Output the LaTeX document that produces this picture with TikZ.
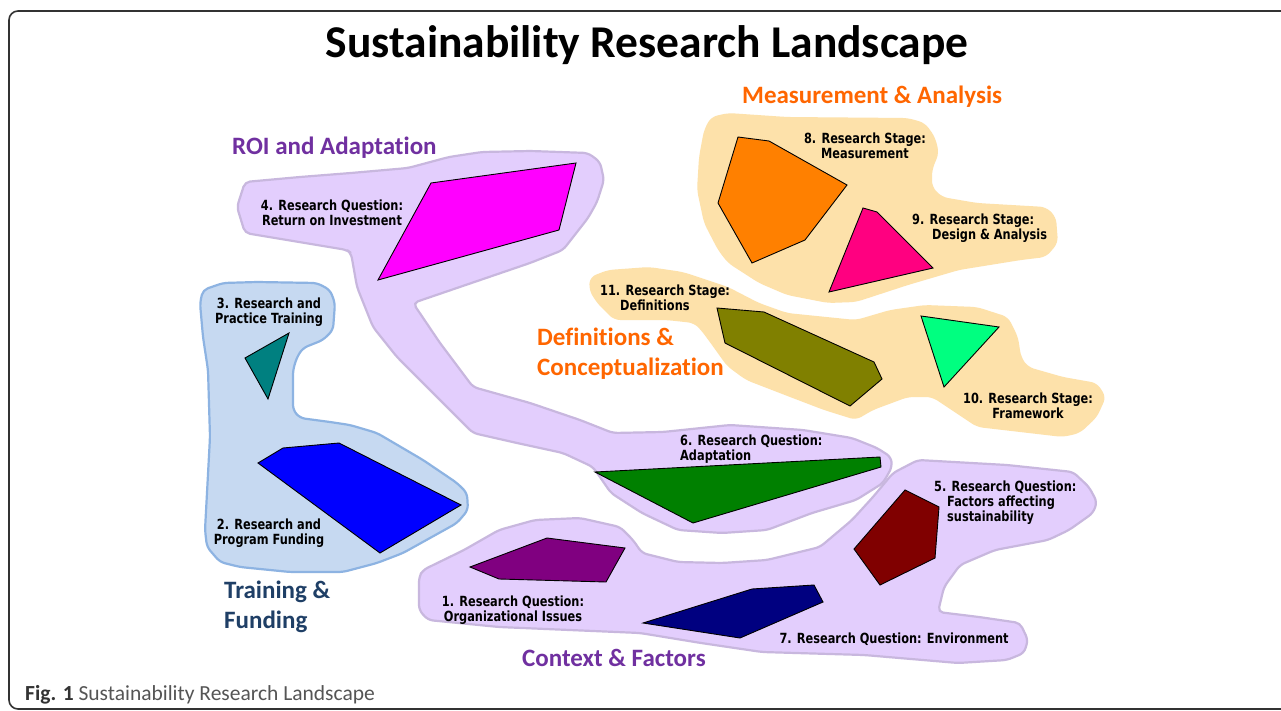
\documentclass[tikz,border=0pt]{standalone}
\usepackage{fontspec}
\setmainfont{Carlito}[Ligatures={NoCommon}]
\newfontfamily\labfont{DejaVu Sans}[FakeStretch=0.81]
\definecolor{lav}{HTML}{E3CEFD}
\definecolor{lavedge}{HTML}{C8B7DE}
\definecolor{peach}{HTML}{FDE1AA}
\definecolor{paleblue}{HTML}{C6D9F1}
\definecolor{blueedge}{HTML}{8DB3E2}
\definecolor{catpurple}{HTML}{7030A0}
\definecolor{catorange}{HTML}{FF6600}
\definecolor{catnavy}{HTML}{1F3F66}
\definecolor{framegray}{HTML}{333333}
\tikzset{
  lavblob/.style={fill=lav, draw=lavedge, line width=2.2pt, rounded corners=5pt},
  peachblob/.style={fill=peach, rounded corners=6pt},
  blueblob/.style={fill=paleblue, draw=blueedge, line width=2.2pt, rounded corners=5pt},
  poly/.style={draw=black, line width=0.9pt, line join=miter},
  smalllab/.style={inner sep=0pt, font=\labfont\bfseries\fontsize{14}{15}\selectfont},
  catlab/.style={inner sep=0pt, font=\bfseries\fontsize{25}{30}\selectfont, align=left}
}
\begin{document}
\begin{tikzpicture}[x=1pt,y=-1pt]
\useasboundingbox (0,0) rectangle (1281,711);
\fill[white] (0,0) rectangle (1281,711);
% frame
\draw[framegray, line width=1.6pt, rounded corners=9pt] (9,11) rectangle (1300,709);

% lavender blob: ROI and Adaptation
\draw[lavblob] (245,182) -- (300,177) -- (351,173) -- (408,168) -- (449,157) -- (482,152) -- (531,151) -- (588,153) -- (600,162) -- (604,180) -- (597,202) -- (588,218) -- (563,250) -- (530,263) -- (413,303) -- (440,343) -- (473,387) -- (530,403) -- (580,420) -- (613,433) -- (663,432) -- (730,425) -- (803,430) -- (852,438) -- (877,448) -- (891,457) -- (892,467) -- (883,483) -- (856,500) -- (812,513) -- (767,530) -- (722,533) -- (678,530) -- (642,513) -- (611,493) -- (593,467) -- (563,453) -- (517,443) -- (473,433) -- (430,390) -- (397,357) -- (373,327) -- (357,287) -- (351,253) -- (347,250) -- (245,233) -- (237,207) -- cycle;

% lavender blob: Context & Factors
\draw[lavblob] (419,577) -- (423,570) -- (464,550) -- (499,530) -- (535,520) -- (580,518) -- (620,527) -- (633,540) -- (642,553) -- (678,562) -- (722,563) -- (767,560) -- (820,547) -- (852,520) -- (873,497) -- (893,473) -- (918,460) -- (1007,465) -- (1073,472) -- (1089,487) -- (1097,502) -- (1093,513) -- (1069,530) -- (1048,540) -- (995,550) -- (960,565) -- (944,587) -- (938,612) -- (979,617) -- (1020,623) -- (1028,640) -- (1024,653) -- (1007,660) -- (958,663) -- (864,655) -- (762,652) -- (701,643) -- (640,633) -- (499,627) -- (428,620) -- (419,610) -- cycle;

% blue blob: Training & Funding
\draw[blueblob] (203,290) -- (223,283) -- (257,282) -- (317,283) -- (330,290) -- (335,303) -- (333,330) -- (323,340) -- (303,348) -- (297,357) -- (293,370) -- (293,410) -- (300,418) -- (330,422) -- (350,425) -- (377,433) -- (423,460) -- (457,483) -- (467,493) -- (468,510) -- (457,523) -- (403,553) -- (377,563) -- (343,572) -- (290,572) -- (240,567) -- (220,562) -- (207,547) -- (205,530) -- (210,437) -- (208,370) -- (203,337) -- (200,303) -- cycle;

% peach blob: Measurement & Analysis
\fill[peachblob] (711,117) -- (728,113) -- (787,117) -- (908,118) -- (925,123) -- (935,137) -- (939,153) -- (932,170) -- (932,187) -- (942,197) -- (977,203) -- (1046,207) -- (1056,217) -- (1058,243) -- (1046,257) -- (1021,260) -- (959,270) -- (908,285) -- (856,302) -- (828,303) -- (787,295) -- (759,283) -- (728,263) -- (718,250) -- (704,223) -- (697,190) -- (699,157) -- (704,130) -- cycle;

% peach blob: Definitions & Conceptualization
\fill[peachblob] (590,277) -- (608,270) -- (649,267) -- (683,272) -- (728,287) -- (759,303) -- (787,313) -- (856,320) -- (890,310) -- (925,305) -- (977,307) -- (1008,317) -- (1018,337) -- (1021,357) -- (1028,367) -- (1063,377) -- (1097,383) -- (1106,397) -- (1097,417) -- (1080,433) -- (1063,437) -- (977,427) -- (932,397) -- (908,397) -- (873,410) -- (856,420) -- (824,410) -- (790,397) -- (746,380) -- (727,366) -- (712,345) -- (701,330) -- (694,323) -- (666,320) -- (614,320) -- (597,303) -- (589,290) -- cycle;

% polygons
\draw[poly, fill={rgb,255:red,255;green,0;blue,255}] (431,183) -- (576,163) -- (559,230) -- (378,280) -- cycle;
\draw[poly, fill={rgb,255:red,0;green,128;blue,128}] (245,358) -- (289,333) -- (268,399) -- cycle;
\draw[poly, fill={rgb,255:red,0;green,0;blue,255}] (258,463) -- (283,448) -- (339,443) -- (461,505) -- (380,553) -- cycle;
\draw[poly, fill={rgb,255:red,128;green,0;blue,128}] (470,567) -- (547,538) -- (625,548) -- (606,582) -- (499,579) -- cycle;
\draw[poly, fill={rgb,255:red,0;green,128;blue,0}] (595,472) -- (880,457) -- (881,467) -- (693,523) -- cycle;
\draw[poly, fill={rgb,255:red,0;green,0;blue,128}] (643,623) -- (752,589) -- (814,585) -- (823,602) -- (740,638) -- cycle;
\draw[poly, fill={rgb,255:red,128;green,0;blue,0}] (905,490) -- (939,507) -- (935,558) -- (880,585) -- (854,549) -- cycle;
\draw[poly, fill={rgb,255:red,255;green,128;blue,0}] (738,137) -- (769,141) -- (847,185) -- (805,240) -- (752,263) -- (718,203) -- cycle;
\draw[poly, fill={rgb,255:red,255;green,0;blue,128}] (863,208) -- (877,212) -- (933,268) -- (829,292) -- cycle;
\draw[poly, fill={rgb,255:red,128;green,128;blue,0}] (717,308) -- (764,312) -- (874,362) -- (882,379) -- (850,406) -- (725,343) -- cycle;
\draw[poly, fill={rgb,255:red,0;green,255;blue,128}] (921,316) -- (999,327) -- (944,387) -- cycle;

% title
\node[inner sep=0pt, anchor=base, font=\bfseries\fontsize{45.5}{54}\selectfont] (title) at (647,58) {Sustainability Research Landscape};

% category labels
\node[catlab, text=catpurple, anchor=base west] (roi) at (232,155) {ROI and Adaptation};
\node[catlab, text=catorange, anchor=base west] (meas) at (742,104) {Measurement \& Analysis};
\node[catlab, text=catorange, anchor=west] (defs) at (537,353.5) {Definitions \&\\Conceptualization};
\node[catlab, text=catnavy, anchor=west] (train) at (224,606.5) {Training \&\\Funding};
\node[catlab, text=catpurple, anchor=base west] (ctx) at (522,666) {Context \& Factors};

% small labels
\node[smalllab, align=center] (l4) at (332,212.5) {4. Research Question:\\Return on Investment};
\node[smalllab, align=center] (l3) at (269,312.5) {3. Research and\\Practice Training};
\node[smalllab, align=center] (l2) at (269,533) {2. Research and\\Program Funding};
\node[smalllab, align=center] (l1) at (513,610) {1. Research Question:\\Organizational Issues};
\node[smalllab] (l7) at (894,639) {7. Research Question: Environment};
\node[smalllab, align=left, anchor=west] (l5) at (934,502.5) {5. Research Question:\\\hspace*{13pt}Factors affecting\\\hspace*{13pt}sustainability};
\node[smalllab, align=left, anchor=west] (l6) at (680,449.5) {6. Research Question:\\Adaptation};
\node[smalllab, align=center] (l8) at (865,145.5) {8. Research Stage:\\Measurement};
\node[smalllab, align=left, anchor=west] (l9) at (912,228) {9. Research Stage:\\\hspace*{20pt}Design \& Analysis};
\node[smalllab, align=center] (l10) at (1028,405.5) {10. Research Stage:\\Framework};
\node[smalllab, align=left, anchor=west] (l11) at (600,297.5) {11. Research Stage:\\\hspace*{20pt}Definitions};

% caption
\node[inner sep=0pt, anchor=base west, font=\fontsize{21.5}{24}\selectfont, text=framegray] (cap) at (25,700) {\textbf{Fig. 1} {\color[HTML]{555555}Sustainability Research Landscape}};
\end{tikzpicture}
\end{document}
